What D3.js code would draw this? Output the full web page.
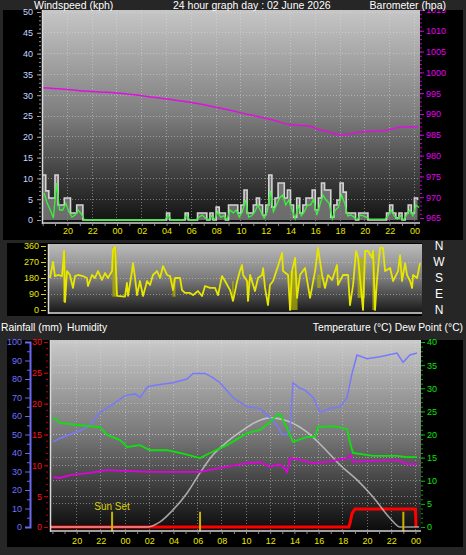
<!DOCTYPE html>
<html><head><meta charset="utf-8">
<script src="https://cdn.jsdelivr.net/npm/d3@7"></script>
<style>
body{margin:0;background:#262626;overflow:hidden;}
svg{display:block;font-family:"Liberation Sans",Arial,sans-serif;}
</style></head><body>
<svg id="c" width="466" height="555"></svg>
<script>
// ---------- DATA ----------
const hourTicks = [-4,-2,0,2,4,6,8,10,12,14,16,18,20,22,24];
const hourLabels = ["20","22","00","02","04","06","08","10","12","14","16","18","20","22","00"];
const windTicks = [0,5,10,15,20,25,30,35,40,45,50];
const baroTicks = [965,970,975,980,985,990,995,1000,1005,1010,1015];
const dirTicks = [0,90,180,270,360];
const dirLetters = ["N","E","S","W","N"];
const humTicks = [0,10,20,30,40,50,60,70,80,90,100];
const rainTicks = [0,5,10,15,20,25,30];
const tempTicks = [0,5,10,15,20,25,30,35,40];

const windStartHour = -6, windStepHours = 0.25;
const windGust = [
 10.8,7,5.3,5.3,10.8,3.6,3.6,5.3,5.3,1.7,
 1.7,3.6,3.6,0,0,0,0,0,0,0,
 0,0,0,0,0,0,0,0,0,0,
 0,0,0,0,0,0,0,0,0,0,
 1.7,0,0,0,0,0,1.7,0,0,0,
 1.7,1.7,1.7,0,1.7,0,3.1,1.7,1.7,0,
 3.6,3.6,3.6,1.7,3.6,7.2,1.7,1.7,3.6,5.3,
 3.6,1.2,3.6,10.8,3.1,5.3,8.9,8.9,5.3,7.2,
 3.6,0.7,5.3,1.7,3.6,5.3,5.3,7.2,2.4,5.3,
 8.9,7.2,7.2,0.7,3.6,4.8,8.9,6.7,1.7,1.7,
 1.7,0,1.7,1.7,1.7,0,0,0,0,0,
 0,1.7,3.6,1.7,0.5,1.7,0,1.7,3.6,1.7,
 5.3,4.8];
const windAvg = [
 6.5,4,2.4,0.5,8.9,2.4,2.4,4,2,0.7,
 1.2,2.4,1.5,0,0,0,0,0,0,0,
 0,0,0,0,0,0,0,0,0,0,
 0,0,0,0,0,0,0,0,0,0,
 1.2,0,0,0,0,0,1.2,0,0,0,
 0.7,1.2,0.5,0,1,0,2,0.7,1,0,
 2.4,1.7,2.4,0.7,2,4.8,0.7,1,2,3.6,
 2,0.5,2,7,2,3.6,5.3,6,3.6,4.8,
 2.4,0.3,3.6,1,2,3.6,3.6,5,1.2,3.6,
 6,4.8,4,0.3,2.4,3.1,6,4,1,1.2,
 0.7,0,1.2,1,0.7,0.2,0.2,0.2,0.2,0.2,
 0.2,1,2.4,1,0.2,1,0,1.2,2.4,1,
 3.6,3];

const baroHours = [-6.05,-4.5,-3,-1.4,0.5,2.7,4.5,6.7,8.5,10.7,12.5,14,15.5,16.4,17.2,18,18.8,19.6,21.2,22.3,22.9,24.3];
const baroValues = [996.3,996.0,995.6,995.3,994.9,994.1,993.4,992.4,991.3,989.8,988.6,987.4,987.1,986.2,985.6,985.0,985.2,985.7,985.9,986.4,986.9,986.9];

const dirHours = [-5.89,-5.64,-5.48,-5.23,-4.91,-4.83,-4.74,-4.66,-4.5,-4.26,-4.01,-3.85,-3.6,-3.2,-2.87,-2.79,-2.46,-2.22,-1.97,-1.65,-1.4,-1.16,-0.83,-0.75,-0.58,-0.42,0.23,0.39,0.48,0.8,0.88,1.05,1.21,1.45,1.7,2.03,2.27,2.51,2.84,3.09,3.33,3.66,3.9,4.15,4.31,4.72,4.88,5.12,5.53,5.78,6.18,6.51,6.76,7.16,7.57,7.82,8.14,8.39,8.8,9.04,9.37,9.6,9.77,9.86,10.18,10.26,10.43,10.83,11.08,11.41,11.49,11.65,11.89,12.05,12.3,12.71,13.04,13.12,13.53,13.69,13.85,14.1,14.26,14.5,14.91,15.32,15.73,15.97,16.3,16.54,16.79,17.12,17.52,17.6,18.01,18.42,18.58,18.83,19.07,19.24,19.64,19.81,20.05,20.38,20.46,20.62,20.79,21.03,21.27,21.44,21.85,22.09,22.5,22.66,22.82,23.07,23.23,23.48,23.64,23.72,24.05,24.29];
const dirValues = [180,270,191,197,191,253,332,45,219,197,124,191,197,191,180,135,197,180,219,169,208,180,219,340,355,79,75,152,79,219,264,180,84,163,79,163,141,197,219,180,247,197,191,112,180,180,112,96,96,84,107,79,135,124,124,84,191,163,112,51,160,219,253,197,163,51,197,107,180,197,236,124,28,141,163,247,321,219,197,0,219,293,68,197,236,68,219,349,197,124,197,169,253,141,197,197,28,141,332,293,0,332,332,293,332,0,180,349,349,219,236,163,219,309,163,264,197,163,124,197,180,264];
// dense oscillation bands: [start hour, end hour, low deg, high deg]
const dirBandStart = [-4.83,-0.8,4.1,8.95,10.2,13.65,15.9,19.2,20.4];
const dirBandEnd   = [-4.6,-0.45,4.35,9.1,10.35,14.3,16.2,19.8,20.65];
const dirBandLow   = [45,75,75,51,51,0,124,68,0];
const dirBandHigh  = [330,355,180,163,163,219,200,293,332];

const humHours = [-5.95,-5.37,-4.55,-3.72,-2.89,-2.07,-1.07,0,0.83,1.24,1.9,2.89,3.97,5.12,5.62,6.61,7.19,7.85,8.93,10.08,11.16,11.98,12.56,12.98,13.39,13.64,13.88,14.46,14.88,15.54,16.12,16.94,17.77,18.35,18.76,19.17,20,21.07,22.48,22.98,23.55,24.13];
const humValues = [46,48,50,52,55,62,66,71,72,70,76,77,78,80,83,83,81,78,70,65,64,59,55,50,50,52,78,75,74,70,62,64,65,70,83,93,91,92,94,89,93,94];

const tempHours = [-5.95,-5.6,-5.37,-3.72,-2.07,-1.49,-0.41,0.17,1.24,2.07,3.47,4.55,6.2,7.02,8.43,10.08,11.16,11.98,12.56,12.81,13.39,13.88,15.04,15.7,15.95,17.19,18.35,18.6,18.84,20.5,22.48,23.31,24.13];
const tempValues = [23.6,23.1,22.5,22,21.6,19.9,18.8,17.3,17.7,16.6,16.6,16,14.9,16,17.7,20.3,21,22.7,24.2,24.4,21.4,18.4,19.5,19.5,21.6,21.8,21.2,18.2,16,15.4,15.4,15.1,15.1];

const dewHours = [-5.95,-5.37,-4.55,-2.89,-1.49,0.41,2.07,6.2,7.85,10.08,11.16,11.98,12.81,13.22,13.39,13.64,14.46,15.54,16.69,18.35,18.6,18.84,22.48,23.31,24.13];
const dewValues = [10.8,10.6,11.2,11.7,12.3,12.1,11.9,11.9,12.8,13.8,14,13,13.6,12.5,11.9,14.9,14.5,13.8,14.1,14.9,15.6,14.1,14.5,13.6,13.6];

const solarHours = [-6.2,1.82,2.89,3.97,5.12,6.2,7.27,8.43,9.5,11.16,11.98,13.64,15.04,16.36,17.77,19.17,20.5,21.9,22.73,24.3];
const solarValues = [0,0,1.1,3.7,7.3,11.7,15.6,18.4,20.5,23.1,23.6,22.7,20.5,17.3,13.4,10.2,6.5,1.9,0,0];

const rainHours = [-6.2,18.5,18.6,18.76,19.0,24.0,24.05];
const rainValues = [0,0,0.65,2.2,2.9,2.9,0];

const sunHours = [-1.07,6.2,23.0];
const sunLabels = ["Sun Set","",""];

// ---------- DRAW ----------
const svg = d3.select("#c");
const defs = svg.append("defs");
function grad(id, stops){
  const g = defs.append("linearGradient").attr("id",id).attr("x1",0).attr("y1",0).attr("x2",0).attr("y2",1);
  stops.forEach(s=>g.append("stop").attr("offset",s[0]).attr("stop-color",s[1]));
}
grad("gTop",[["0%","#c6c6c6"],["50%","#7c7c7c"],["85%","#2e2e2e"],["100%","#101010"]]);
grad("gDir",[["0%","#bcbcbc"],["50%","#7a7a7a"],["100%","#141414"]]);
grad("gBot",[["0%","#cacaca"],["50%","#777777"],["85%","#2a2a2a"],["100%","#0a0a0a"]]);

function clip(id,x,y,w,h){defs.append("clipPath").attr("id",id).append("rect").attr("x",x).attr("y",y).attr("width",w).attr("height",h);}

// panel backgrounds
svg.append("rect").attr("x",3).attr("y",10).attr("width",460).attr("height",230).attr("fill","#000");
svg.append("rect").attr("x",7).attr("y",243).attr("width",415).attr("height",73).attr("fill","#000");
svg.append("rect").attr("x",7).attr("y",340).attr("width",456).attr("height",207).attr("fill","#000");
clip("cTopPanel",0,10,466,230);

const FONT = "9px";
function styleAxis(g, tickColor, textColor){
  g.select(".domain").remove();
  g.selectAll(".tick line").attr("stroke",tickColor);
  g.selectAll("text").attr("fill",textColor).style("font-size",FONT).style("font-family",'"Liberation Sans",Arial,sans-serif');
}
function gridDots(g, x1,x2,y1,y2){
  g.append("line").attr("x1",x1).attr("x2",x2).attr("y1",y1).attr("y2",y2)
   .attr("stroke","#e0e0e0").attr("stroke-opacity",0.45).attr("stroke-dasharray","1,2").attr("shape-rendering","crispEdges");
}
const hourFmt = d => hourLabels[hourTicks.indexOf(d)];

// ===== TOP PANEL =====
const xTop = d3.scaleLinear().domain([-6.05,24.45]).range([42,420]);
const yWind = d3.scaleLinear().domain([0,50]).range([220,12]);
const yBaro = d3.scaleLinear().domain([965,1015]).range([218,10]);
svg.append("rect").attr("x",42).attr("y",10).attr("width",378).attr("height",214).attr("fill","url(#gTop)");
clip("cTop",42,10,378,214);
const gTopGrid = svg.append("g");
hourTicks.forEach(h=>gridDots(gTopGrid,xTop(h),xTop(h),10,222));
windTicks.slice(1).forEach(v=>gridDots(gTopGrid,42,420,yWind(v),yWind(v)));

const windTimes = windGust.map((d,i)=>windStartHour + i*windStepHours);
const gTopData = svg.append("g").attr("clip-path","url(#cTop)");
gTopData.append("path").datum(windGust)
  .attr("d", d3.area().x((d,i)=>xTop(windTimes[i])).y0(yWind(0)).y1(d=>yWind(d)).curve(d3.curveStepAfter))
  .attr("fill","#8a8a8a").attr("fill-opacity",0.75);
gTopData.append("path").datum(windGust)
  .attr("d", d3.line().x((d,i)=>xTop(windTimes[i])).y(d=>yWind(d)).curve(d3.curveStepAfter))
  .attr("fill","none").attr("stroke","#d4d4d4").attr("stroke-width",1.6);
gTopData.append("path").datum(windAvg)
  .attr("d", d3.line().x((d,i)=>xTop(windTimes[i])+1.5).y(d=>yWind(d)).curve(d3.curveLinear))
  .attr("fill","none").attr("stroke","#3cf03c").attr("stroke-width",1.3);
gTopData.append("path").datum(baroValues)
  .attr("d", d3.line().x((d,i)=>xTop(baroHours[i])).y(d=>yBaro(d)).curve(d3.curveMonotoneX))
  .attr("fill","none").attr("stroke","#e010e0").attr("stroke-width",1.5);
// plot border
svg.append("line").attr("x1",42.5).attr("x2",42.5).attr("y1",10).attr("y2",224).attr("stroke","#d8d8d8").attr("stroke-width",1.5);
svg.append("line").attr("x1",42).attr("x2",420).attr("y1",223).attr("y2",223).attr("stroke","#d0d0d0").attr("stroke-width",1.5);

// axes
const axWind = svg.append("g").attr("transform","translate(41,0)")
  .call(d3.axisLeft(yWind).tickValues(windTicks).tickSize(4).tickPadding(4));
styleAxis(axWind,"#a0a0a0","#c8d8ff");
const axWindMinor = svg.append("g").attr("transform","translate(41,0)")
  .call(d3.axisLeft(yWind).tickValues(d3.range(0,51,1)).tickSize(2).tickFormat(""));
styleAxis(axWindMinor,"#909090","#fff");
const baroWrap = svg.append("g").attr("clip-path","url(#cTopPanel)");
const axBaro = baroWrap.append("g").attr("transform","translate(420,0)")
  .call(d3.axisRight(yBaro).tickValues(baroTicks).tickSize(4).tickPadding(2).tickFormat(d3.format("d")));
styleAxis(axBaro,"#d000d0","#e000f0");
const axBaroMinor = baroWrap.append("g").attr("transform","translate(420,0)")
  .call(d3.axisRight(yBaro).tickValues(d3.range(965,1016,1)).tickSize(2).tickFormat(""));
styleAxis(axBaroMinor,"#c000c0","#fff");
const axTopX = svg.append("g").attr("transform","translate(0,224)")
  .call(d3.axisBottom(xTop).tickValues(hourTicks).tickSize(0).tickPadding(4).tickFormat(hourFmt));
styleAxis(axTopX,"#808080","#e8e800");
const axTopXMinor = svg.append("g").attr("transform","translate(0,224)")
  .call(d3.axisBottom(xTop).tickValues(d3.range(-6,25,1)).tickSize(2).tickFormat(""));
styleAxis(axTopXMinor,"#8c8c8c","#fff");

// headers
const hdr = svg.append("g").attr("fill","#fff").style("font-size","10.5px");
hdr.append("text").attr("x",34).attr("y",9).text("Windspeed (kph)");
hdr.append("text").attr("x",173).attr("y",9).text("24 hour graph day : 02 June 2026");
hdr.append("text").attr("x",446).attr("y",9).attr("text-anchor","end").text("Barometer (hpa)");

// ===== WIND DIRECTION PANEL =====
const xDir = d3.scaleLinear().domain([-6.05,24.45]).range([48,422]);
const yDir = d3.scaleLinear().domain([0,360]).range([310,246]);
svg.append("rect").attr("x",48).attr("y",244).attr("width",374).attr("height",70).attr("fill","url(#gDir)");
clip("cDir",48,244,374,70);
const gDirGrid = svg.append("g");
[90,180,270].forEach(v=>gridDots(gDirGrid,48,422,yDir(v),yDir(v)));
const gDirData = svg.append("g").attr("clip-path","url(#cDir)");
gDirData.selectAll("rect.band").data(dirBandStart).join("rect")
  .attr("x",(d,i)=>xDir(d)).attr("width",(d,i)=>Math.max(1,xDir(dirBandEnd[i])-xDir(d)))
  .attr("y",(d,i)=>yDir(dirBandHigh[i])).attr("height",(d,i)=>yDir(dirBandLow[i])-yDir(dirBandHigh[i]))
  .attr("fill","#b4b400").attr("fill-opacity",0.7);
gDirData.append("path").datum(dirValues)
  .attr("d", d3.line().x((d,i)=>xDir(dirHours[i])).y(d=>yDir(d)))
  .attr("fill","none").attr("stroke","#e6e600").attr("stroke-width",1.8).attr("stroke-linejoin","round");
svg.append("line").attr("x1",48.5).attr("x2",48.5).attr("y1",244).attr("y2",314).attr("stroke","#d8d8d8").attr("stroke-width",1.5);
svg.append("line").attr("x1",48).attr("x2",422).attr("y1",313).attr("y2",313).attr("stroke","#d8d8d8").attr("stroke-width",1.5);
const axDir = svg.append("g").attr("transform","translate(46,0)")
  .call(d3.axisLeft(yDir).tickValues(dirTicks).tickSize(5).tickPadding(2));
styleAxis(axDir,"#d8d800","#e8e800");
const axDirMinor = svg.append("g").attr("transform","translate(46,0)")
  .call(d3.axisLeft(yDir).tickValues(d3.range(0,361,22.5)).tickSize(2).tickFormat(""));
styleAxis(axDirMinor,"#c8c800","#fff");
svg.append("g").selectAll("text").data(dirTicks).join("text")
  .attr("x",439).attr("y",d=>yDir(d)).attr("dy","0.36em").attr("text-anchor","middle")
  .attr("fill","#fff").style("font-size","12px").text((d,i)=>dirLetters[i]);

// ===== BOTTOM PANEL =====
const xBot = d3.scaleLinear().domain([-6.2,24.46]).range([50,421]);
const yHum = d3.scaleLinear().domain([0,100]).range([527,342]);
const yRain = d3.scaleLinear().domain([0,30]).range([527,342]);
const yTemp = d3.scaleLinear().domain([0,40]).range([527,342]);
svg.append("rect").attr("x",50).attr("y",340).attr("width",371).attr("height",192).attr("fill","url(#gBot)");
clip("cBot",50,340,371,192);
const gBotGrid = svg.append("g");
hourTicks.forEach(h=>gridDots(gBotGrid,xBot(h),xBot(h),340,530));
rainTicks.slice(1).forEach(v=>gridDots(gBotGrid,50,421,yRain(v),yRain(v)));
tempTicks.slice(1).forEach(v=>gridDots(gBotGrid,50,421,yTemp(v),yTemp(v)));

const gBotData = svg.append("g").attr("clip-path","url(#cBot)");
const lineOf = (hrs, ys) => d3.line().x((d,i)=>xBot(hrs[i])).y(d=>ys(d));
gBotData.append("path").datum(rainValues).attr("d",lineOf(rainHours,yRain))
  .attr("fill","none").attr("stroke","#ff0000").attr("stroke-width",3);
gBotData.append("path").datum(solarValues).attr("d",lineOf(solarHours,yTemp).curve(d3.curveMonotoneX))
  .attr("fill","none").attr("stroke","#d8d8d8").attr("stroke-opacity",0.7).attr("stroke-width",1.6);
gBotData.append("path").datum(humValues).attr("d",lineOf(humHours,yHum))
  .attr("fill","none").attr("stroke","#7878ff").attr("stroke-width",1.5);
gBotData.append("path").datum(tempValues).attr("d",lineOf(tempHours,yTemp))
  .attr("fill","none").attr("stroke","#10e010").attr("stroke-width",1.8);
gBotData.append("path").datum(dewValues).attr("d",lineOf(dewHours,yTemp))
  .attr("fill","none").attr("stroke","#e000e0").attr("stroke-width",1.8);
// sun markers
gBotData.selectAll("line.sun").data(sunHours).join("line")
  .attr("x1",d=>xBot(d)).attr("x2",d=>xBot(d)).attr("y1",yTemp(3.3)).attr("y2",yTemp(-1))
  .attr("stroke","#c8b400").attr("stroke-width",2);
gBotData.selectAll("text.sun").data(sunHours).join("text")
  .attr("x",d=>xBot(d)).attr("y",yTemp(3.6)).attr("text-anchor","middle")
  .attr("fill","#d8d000").style("font-size","10px").text((d,i)=>sunLabels[i]);
svg.append("line").attr("x1",50.5).attr("x2",50.5).attr("y1",340).attr("y2",532).attr("stroke","#d8d8d8").attr("stroke-width",1.5);
svg.append("line").attr("x1",50).attr("x2",421).attr("y1",531).attr("y2",531).attr("stroke","#d0d0d0").attr("stroke-width",1.5);

// humidity axis
const axHum = svg.append("g").attr("transform","translate(30,0)")
  .call(d3.axisLeft(yHum).tickValues(humTicks).tickSize(5).tickPadding(3));
axHum.select(".domain").attr("stroke","#6868f0").attr("stroke-width",2);
axHum.selectAll(".tick line").attr("stroke","#6868f0");
axHum.selectAll("text").attr("fill","#7070ff").style("font-size",FONT);
const axHumMinor = svg.append("g").attr("transform","translate(30,0)")
  .call(d3.axisLeft(yHum).tickValues(d3.range(5,100,10)).tickSize(3).tickFormat(""));
styleAxis(axHumMinor,"#6868f0","#fff");
// rain axis
const axRain = svg.append("g").attr("transform","translate(48,0)")
  .call(d3.axisLeft(yRain).tickValues(rainTicks).tickSize(4).tickPadding(2));
styleAxis(axRain,"#e00000","#ff1010");
const axRainMinor = svg.append("g").attr("transform","translate(48,0)")
  .call(d3.axisLeft(yRain).tickValues(d3.range(0,31,1)).tickSize(2).tickFormat(""));
styleAxis(axRainMinor,"#c00000","#fff");
// temperature axis
const axTemp = svg.append("g").attr("transform","translate(421,0)")
  .call(d3.axisRight(yTemp).tickValues(tempTicks).tickSize(4).tickPadding(2));
styleAxis(axTemp,"#00c000","#10e010");
const axTempMinor = svg.append("g").attr("transform","translate(421,0)")
  .call(d3.axisRight(yTemp).tickValues(d3.range(0,41,1)).tickSize(2).tickFormat(""));
styleAxis(axTempMinor,"#00a000","#fff");
const axBotX = svg.append("g").attr("transform","translate(0,532)")
  .call(d3.axisBottom(xBot).tickValues(hourTicks).tickSize(0).tickPadding(6).tickFormat(hourFmt));
styleAxis(axBotX,"#808080","#e8e800");
const axBotXMinor = svg.append("g").attr("transform","translate(0,532)")
  .call(d3.axisBottom(xBot).tickValues(d3.range(-6,25,1)).tickSize(2).tickFormat(""));
styleAxis(axBotXMinor,"#8c8c8c","#fff");

const hdr2 = svg.append("g").attr("fill","#fff").style("font-size","10.3px");
hdr2.append("text").attr("x",1).attr("y",331).text("Rainfall (mm)");
hdr2.append("text").attr("x",67).attr("y",331).text("Humidity");
hdr2.append("text").attr("x",463).attr("y",331).attr("text-anchor","end").text("Temperature (°C) Dew Point (°C)");
</script>
</body></html>
